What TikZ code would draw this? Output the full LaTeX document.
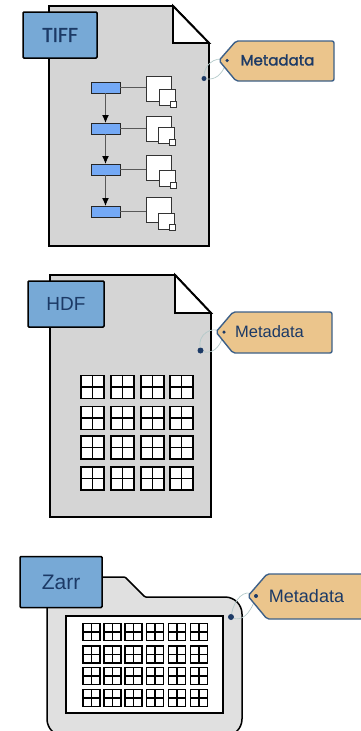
\documentclass[tikz,border=0pt]{standalone}
\usepackage{fontspec}
\setmainfont{Liberation Sans}
\newfontfamily\tagfont[FakeBold=1.6]{Poppins}
\usetikzlibrary{positioning, arrows.meta}
\definecolor{tabblue}{HTML}{77A9D6}
\definecolor{blockblue}{HTML}{74A9F5}
\definecolor{tagtan}{HTML}{EBC58C}
\definecolor{tagedge}{HTML}{3D6088}
\definecolor{navy}{HTML}{1C3A66}
\definecolor{pagegrey}{HTML}{D5D5D5}
\definecolor{foldergrey}{HTML}{E0E0E0}
\definecolor{stringgrey}{HTML}{B4CACA}
\begin{document}
\begin{tikzpicture}[
        x=1pt, y=-1pt,
        every node/.style={inner sep=0pt, outer sep=0pt},
        page/.style={draw=black, line width=1.9pt, fill=pagegrey, line join=miter},
        fold/.style={draw=black, line width=1.9pt, fill=white},
        tab/.style={draw=black, line width=1.5pt, fill=tabblue, rounded corners=1pt, text=navy, minimum width=#1},
        metatag/.style={draw=tagedge, line width=1.4pt, fill=tagtan, rounded corners=2pt},
        tagtext/.style={text=navy, font=\fontsize{#1}{#1}\selectfont},
        hole/.style={circle, fill=navy, minimum size=#1},
        tagstring/.style={draw=stringgrey, line width=0.7pt},
        block/.style={draw=black!85, line width=1pt, fill=blockblue, minimum width=29pt, minimum height=11pt},
        tile/.style={draw=black!80, line width=1pt, fill=white, minimum size=#1},
        link/.style={draw=black!65, line width=1.1pt},
        arrow/.style={-{Latex[length=8pt,width=7pt,color=black]}, draw=black!65, line width=1.1pt},
        cell/.style={draw=black, line width=1.5pt, fill=white, minimum size=#1}
    ]
    \useasboundingbox (0,0) rectangle (360,731);

    % TIFF page
    \draw[page] (49,6) -- (173,6) -- (209,43) -- (209,246) -- (49,246) -- cycle;
    \draw[fold] (173,6) -- (209,43) -- (173,43) -- cycle;
    \node[tab=74pt, minimum height=46pt, font=\fontsize{20}{20}\selectfont\tagfont] (tifftab) at (60,35) {TIFF};

    \node[block] (blk1) at (105.5,87.5) {};
    \node[block, below=30pt of blk1] (blk2) {};
    \node[block, below=30pt of blk2] (blk3) {};
    \node[block, below=31pt of blk3] (blk4) {};
    \foreach \i/\ya/\xb/\yb/\yc in {1/88.5/167/97.5/104.5, 2/129/166/135.5/142.5, 3/168/167/178.5/185.5, 4/210/166/221/227.5} {
        \node[tile=25pt] (big\i) at (158.5,\ya) {};
        \node[tile=16pt] (mid\i) at (\xb,\yb) {};
        \pgfmathsetmacro{\xc}{\xb+6.5}
        \node[tile=5.5pt] (small\i) at (\xc,\yc) {};
        \draw[link] (blk\i.east) -- (blk\i.east -| big\i.west);
    }
    \draw[arrow] (blk1) -- (blk2);
    \draw[arrow] (blk2) -- (blk3);
    \draw[arrow] (blk3) -- (blk4);

    \node[hole=5pt] (tiffhole) at (204,78.5) {};
    \node[hole=3.5pt] (tifftaghole) at (227,60.5) {};
    \draw[tagstring] (tiffhole) .. controls (214,80) and (222,76) .. (tifftaghole);
    \draw[tagstring] (tiffhole) .. controls (204,66) and (214,56) .. (tifftaghole);
    \draw[metatag] (219,60.5) -- (236,41) -- (334,41) -- (334,81) -- (236,81) -- cycle;
    \node[hole=3.5pt] (tifftagdot) at (227,60.5) {};
    \node[tagtext=15, font=\fontsize{15}{15}\selectfont\tagfont] (tifflabel) at (277.5,60) {Metadata};

    % HDF page
    \draw[page] (50,275) -- (175,275) -- (211,313) -- (211,517) -- (50,517) -- cycle;
    \draw[fold] (175,275) -- (211,313) -- (175,313) -- cycle;
    \node[tab=76pt, minimum height=46pt, font=\fontsize{19}{19}\selectfont] (hdftab) at (66,304) {HDF};

    \foreach \cx [count=\i] in {92.5,122.5,152.5,181.5} {
        \foreach \cy [count=\j] in {387,418,447.5,478.5} {
            \node[cell=23pt] (hdf\i\j) at (\cx,\cy) {};
            \draw[line width=1.5pt] (hdf\i\j.north) -- (hdf\i\j.south) (hdf\i\j.west) -- (hdf\i\j.east);
        }
    }

    \node[hole=6pt] (hdfhole) at (200.5,350.5) {};
    \node[hole=3.5pt] (hdftaghole) at (224,332) {};
    \draw[tagstring] (hdfhole) .. controls (210,354) and (220,350) .. (hdftaghole);
    \draw[tagstring] (hdfhole) .. controls (198,335) and (210,326) .. (hdftaghole);
    \draw[metatag] (216,332) -- (233,312) -- (332,312) -- (332,353) -- (233,353) -- cycle;
    \node[hole=3.5pt] (hdftagdot) at (224,332) {};
    \node[tagtext=16.5] (hdflabel) at (269.5,331.5) {Metadata};

    % Zarr folder
    \draw[draw=black, line width=1.5pt, fill=foldergrey, rounded corners=17pt]
        (47,570) -- (47,736) -- (242,736) -- (242,597) [rounded corners=1pt] -- (145,597)
        -- (125,577) -- (47,577) -- cycle;
    \node[tab=82pt, minimum height=51pt, font=\fontsize{21}{21}\selectfont] (zarrtab) at (61,582) {Zarr};
    \node[draw=black, line width=1.5pt, fill=white, minimum width=157pt, minimum height=97pt] (zarrbox) at (144.5,664.5) {};

    \foreach \cx [count=\i] in {91.5,112.5,133.5,155,177,199} {
        \foreach \cy [count=\j] in {632,654.5,676,698} {
            \node[cell=17pt] (zarr\i\j) at (\cx,\cy) {};
            \draw[line width=1.5pt] (zarr\i\j.north) -- (zarr\i\j.south) (zarr\i\j.west) -- (zarr\i\j.east);
        }
    }

    \node[hole=6pt] (zarrhole) at (231,617) {};
    \node[hole=3.5pt] (zarrtaghole) at (256,596) {};
    \draw[tagstring] (zarrhole) .. controls (240,621) and (250,616) .. (zarrtaghole);
    \draw[tagstring] (zarrhole) .. controls (234,600) and (244,588) .. (zarrtaghole);
    \draw[metatag] (248,596) -- (267,574) -- (364,574) -- (364,619) -- (267,619) -- cycle;
    \node[hole=4pt] (zarrtagdot) at (256,596) {};
    \node[tagtext=18] (zarrlabel) at (306.5,596) {Metadata};
\end{tikzpicture}
\end{document}
